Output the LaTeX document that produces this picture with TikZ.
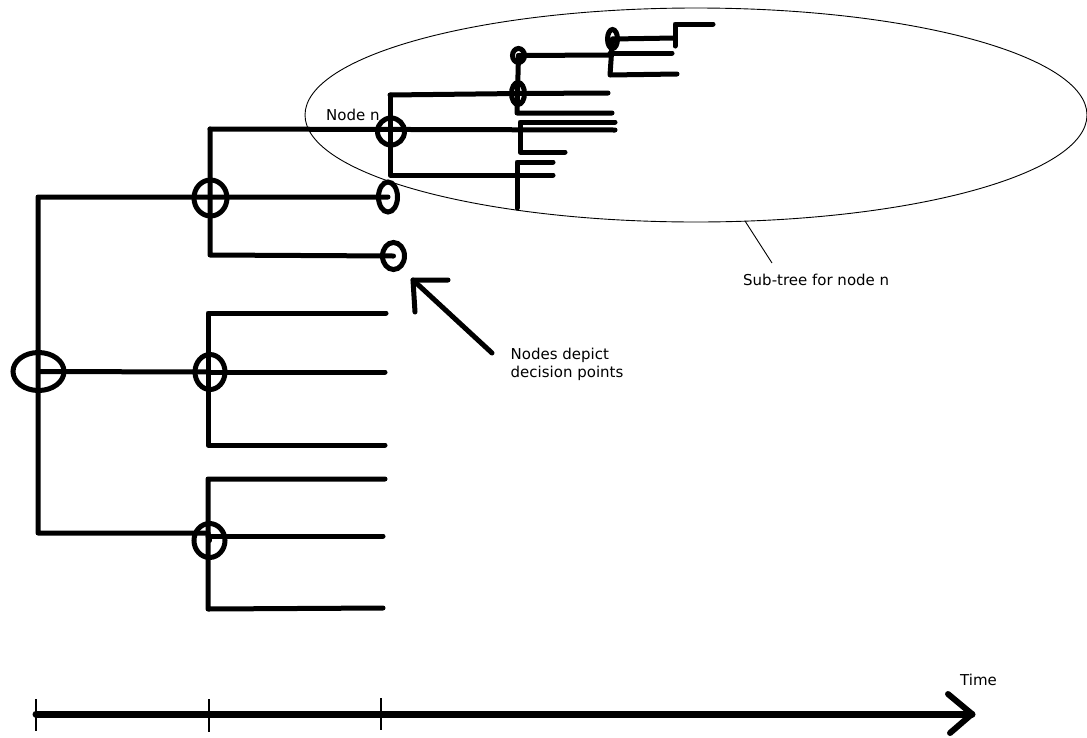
\documentclass[tikz,border=0pt]{standalone}
\usepackage{fontspec}
\setmainfont{DejaVu Sans}
\usetikzlibrary{shapes.geometric}
\begin{document}
\begin{tikzpicture}[x=1pt,y=-1pt,
  br/.style={line width=5pt, line cap=round, line join=round},
  dp/.style 2 args={draw, ellipse, line width=5pt, inner sep=0pt, outer sep=0pt, minimum width=#1pt, minimum height=#2pt},
  thin/.style={line width=0.9pt},
  lbl/.style={inner sep=0pt, anchor=base west, font=\fontsize{15}{18}\selectfont}]
\useasboundingbox (0,0) rectangle (1087,737);

% sub-tree ellipse
\node[draw, thin, ellipse, inner sep=0pt, minimum width=782pt, minimum height=214pt] (sub) at (696,115) {};

% decision nodes
\node[dp={51}{38}] (R) at (38.5,371.5) {};
\node[dp={33}{36}] (A) at (210.5,198) {};
\node[dp={19}{30}] (B) at (388,197) {};
\node[dp={22}{27}] (C) at (393.5,256) {};
\node[dp={30}{35}] (D) at (210,372) {};
\node[dp={31}{34}] (E) at (209.5,540.5) {};
\node[dp={27}{27}] (n) at (391,131.5) {};
\node[dp={13}{22}, line width=5pt] (F) at (518,93.5) {};
\node[dp={12}{14}, line width=5pt] (G) at (518.5,55.5) {};
\node[dp={10}{19}, line width=5pt] (H) at (612.5,39) {};

% coordinates for free ends and corners
\coordinate (t1) at (38,197);
\coordinate (t2) at (38,533);
\coordinate (e1) at (208,533);
\coordinate (a1) at (210,129);
\coordinate (a2) at (210,255);
\coordinate (nE) at (615,130);
\coordinate (d1) at (208,313);
\coordinate (d2) at (208,445);
\coordinate (d3) at (386,313);
\coordinate (d4) at (385,372);
\coordinate (d5) at (385,445);
\coordinate (e4) at (208,479);
\coordinate (e5) at (208,609);
\coordinate (e6) at (385,479);
\coordinate (e7) at (208,536);
\coordinate (e8) at (383,536);
\coordinate (e9) at (383,608);
\coordinate (n2) at (390,95);
\coordinate (n3) at (390,175);
\coordinate (s1) at (553,175);
\coordinate (s2) at (517,162);
\coordinate (s3) at (517,208);
\coordinate (s4) at (553,162);
\coordinate (s5) at (608,93);
\coordinate (s6) at (517,113);
\coordinate (s7) at (612,113);
\coordinate (s8) at (520,122);
\coordinate (s9) at (520,152);
\coordinate (s10) at (615,122);
\coordinate (s11) at (565,152);
\coordinate (s12) at (610,55);
\coordinate (h1) at (675,38);
\coordinate (h2) at (675,24);
\coordinate (h3) at (675,46);
\coordinate (h4) at (713,24);
\coordinate (h5) at (610,75);
\coordinate (h6) at (677,74);
\coordinate (h7) at (610,53);
\coordinate (h8) at (672,53);

% main tree
\draw[br] (B.center) -- (t1) -- (t2) -- (e1) -- (E.center);
\draw[br] (R.center) -- (D.center);
\draw[br] (a1) -- (a2) -- (C.center);
\draw[br] (a1) -- (nE);
\draw[br] (d3) -- (d1) -- (d2) -- (d5);
\draw[br] (D.center) -- (d4);
\draw[br] (e6) -- (e4) -- (e5) -- (e9);
\draw[br] (e7) -- (e8);

% sub-tree of node n
\draw[br] (n2) -- (n3) -- (s1);
\draw[br] (n2) -- (F.center) -- (s5);
\draw[br] (s4) -- (s2) -- (s3);
\draw[br] (G.center) -- (s6) -- (s7);
\draw[br] (s10) -- (s8) -- (s9) -- (s11);
\draw[br] (G.center) -- (s12);
\draw[br] (H.center) -- (h1);
\draw[br] (h4) -- (h2) -- (h3);
\draw[br] (H.center) -- (h5) -- (h6);
\draw[br] (h7) -- (h8);

% labels
\node[lbl] (lbn) at (326,120) {Node n};
\node[lbl] (lbsub) at (743,285) {Sub-tree for node n};
\node[lbl] (lbdp1) at (510.5,359) {Nodes depict};
\node[lbl] (lbdp2) at (510.5,377.5) {decision points};
\node[lbl] (lbtime) at (960,685) {Time};

% pointer to sub-tree ellipse
\coordinate (p1) at (745,221);
\coordinate (p2) at (772,263);
\draw[thin] (p1) -- (p2);

% arrow pointing at decision node
\coordinate (q1) at (492,353);
\coordinate (q2) at (413,280);
\coordinate (q3) at (448,280);
\coordinate (q4) at (415,312);
\draw[br] (q1) -- (q2);
\draw[br] (q3) -- (q2) -- (q4);

% time axis
\coordinate (x0) at (36,714);
\coordinate (x1) at (972,714);
\coordinate (x2) at (948,694);
\coordinate (x3) at (950,733);
\draw[line width=7pt, line cap=round] (x0) -- (x1);
\draw[line width=6pt, line cap=round, line join=round] (x2) -- (x1) -- (x3);
\coordinate (k1a) at (36,699); \coordinate (k1b) at (36,731);
\coordinate (k2a) at (209,699); \coordinate (k2b) at (209,732);
\coordinate (k3a) at (381,698); \coordinate (k3b) at (381,730);
\draw[line width=1.3pt] (k1a) -- (k1b);
\draw[line width=1.3pt] (k2a) -- (k2b);
\draw[line width=1.3pt] (k3a) -- (k3b);
\end{tikzpicture}
\end{document}
